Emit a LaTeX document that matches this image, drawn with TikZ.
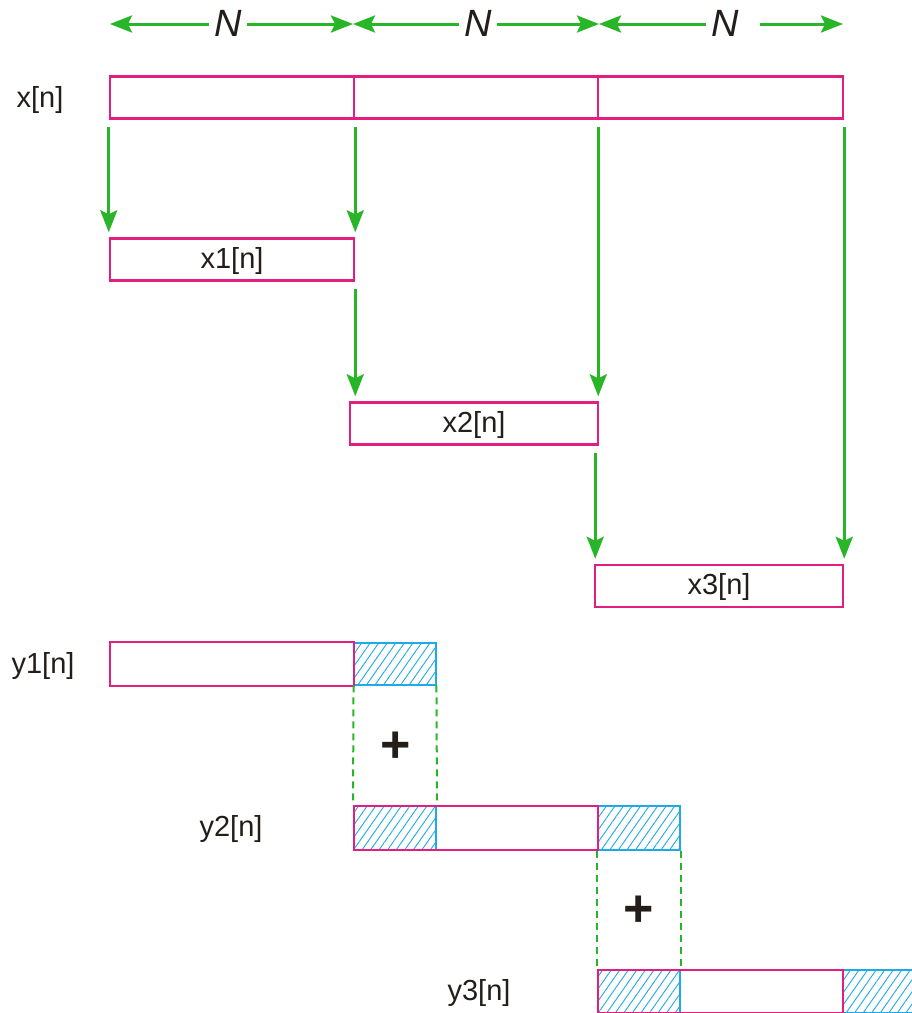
\documentclass[tikz,border=0pt]{standalone}
\usepackage{fontspec}
\setmainfont{Liberation Sans}
\usetikzlibrary{arrows.meta,patterns.meta}
\definecolor{pinkc}{RGB}{226,30,128}
\definecolor{greenc}{RGB}{40,182,40}
\definecolor{bluec}{RGB}{30,170,230}
\definecolor{textc}{RGB}{35,30,25}
\tikzset{
  box/.style={draw=pinkc,line width=2.5pt,inner sep=0pt,minimum height=42pt},
  hatch/.style={draw=bluec,line width=2pt,inner sep=0pt,minimum height=42pt,minimum width=82pt,
    pattern={Lines[angle=55,distance=7pt,line width=0.9pt]},pattern color=bluec},
  arr/.style={draw=greenc,line width=3pt,-{Stealth[length=22pt,width=17pt,inset=4pt]}},
  dim/.style={draw=greenc,line width=3pt,-{Stealth[length=22pt,width=17pt,inset=4pt]}},
  dsh/.style={draw=greenc,line width=2pt,dash pattern=on 7pt off 5pt},
  lbl/.style={text=textc,font=\fontsize{29}{32}\selectfont,inner sep=0pt},
  nlbl/.style={text=textc,font=\fontsize{38}{40}\selectfont\itshape,inner sep=5pt},
  plus/.style={text=textc,font=\fontsize{52}{54}\selectfont\bfseries,inner sep=0pt}
}
\begin{document}
\begin{tikzpicture}[x=1pt,y=-1pt]
\useasboundingbox[fill=white] (0,0) rectangle (912,1013);
% dimension arrows
\node[nlbl] (N1) at (228,23) {N};
\node[nlbl] (N2) at (478,23) {N};
\node[nlbl] (N3) at (725,23) {N};
\coordinate (t0) at (110,24);
\coordinate (t1) at (353,24);
\coordinate (t2) at (599,24);
\coordinate (t3) at (843,24);
\draw[dim] (N1.west |- t0) -- (t0);
\draw[dim] (N1.east |- t0) -- (t1);
\draw[dim] (N2.west |- t0) -- (t1);
\draw[dim] (N2.east |- t0) -- (t2);
\draw[dim] (N3.west |- t0) -- (t2);
\draw[dim] ([xshift=16pt]N3.east |- t0) -- (t3);
% x[n]
\node[lbl] (xl) at (40,100) {x[n]};
\node[box,minimum width=244pt] (xa) at (232,97.5) {};
\node[box,minimum width=244pt] (xb) at (476,97.5) {};
\node[box,minimum width=245pt] (xc) at (720.5,97.5) {};
% x1
\node[box,minimum width=244pt] (x1) at (232,259.5) {};
\node[lbl] at ([yshift=-1pt]x1) {x1[n]};
% x2
\node[box,minimum width=248pt] (x2) at (474,423.5) {};
\node[lbl] at ([yshift=-1pt]x2) {x2[n]};
% x3
\node[box,minimum width=248pt] (x3) at (719,586) {};
\node[lbl] at ([yshift=-1pt]x3) {x3[n]};
% arrows
\coordinate (a1) at ([yshift=-7pt]xa.south west);
\coordinate (a2) at ([yshift=-7pt]xa.south east);
\coordinate (a3) at ([yshift=-7pt]x1.south east);
\coordinate (a4) at ([xshift=-1pt,yshift=-7pt]xb.south east);
\coordinate (a5) at ([xshift=-4pt,yshift=-7pt]x2.south east);
\coordinate (a6) at ([yshift=-7pt]xc.south east);
\draw[arr] (a1) -- ([yshift=5pt]a1 |- x1.north);
\draw[arr] (a2) -- ([yshift=5pt]a2 |- x1.north);
\draw[arr] (a3) -- ([yshift=5pt]a3 |- x2.north);
\draw[arr] (a4) -- ([yshift=5pt]a4 |- x2.north);
\draw[arr] (a5) -- ([yshift=5pt]a5 |- x3.north);
\draw[arr] (a6) -- ([yshift=5pt]a6 |- x3.north);
% y1
\node[lbl] (y1l) at (43,666) {y1[n]};
\node[hatch] (h1) at (395,664) {};
\node[box,minimum width=244pt,minimum height=44pt] (y1) at (232,664) {};
% y2
\node[lbl] (y2l) at (231,829) {y2[n]};
\node[hatch,minimum height=44pt] (h2a) at (395,828) {};
\node[hatch,minimum height=44pt] (h2b) at (639,828) {};
\node[box,minimum width=244pt,minimum height=44pt] (y2) at (476,828) {};
% y3
\node[lbl] (y3l) at (479,993) {y3[n]};
\node[hatch,minimum height=43pt] (h3a) at (639,991.5) {};
\node[hatch,minimum height=43pt] (h3b) at (884,991.5) {};
\node[box,minimum width=245pt,minimum height=43pt] (y3) at (720.5,991.5) {};
% dashed guides and plus signs
\draw[dsh] (h1.south west) -- (h2a.north west);
\draw[dsh] (h1.south east) -- (h2a.north east);
\node[plus] (p1) at (396,747) {+};
\draw[dsh] (h2b.south west) -- (h3a.north west);
\draw[dsh] (h2b.south east) -- (h3a.north east);
\node[plus] (p2) at (639,911) {+};
\end{tikzpicture}
\end{document}
